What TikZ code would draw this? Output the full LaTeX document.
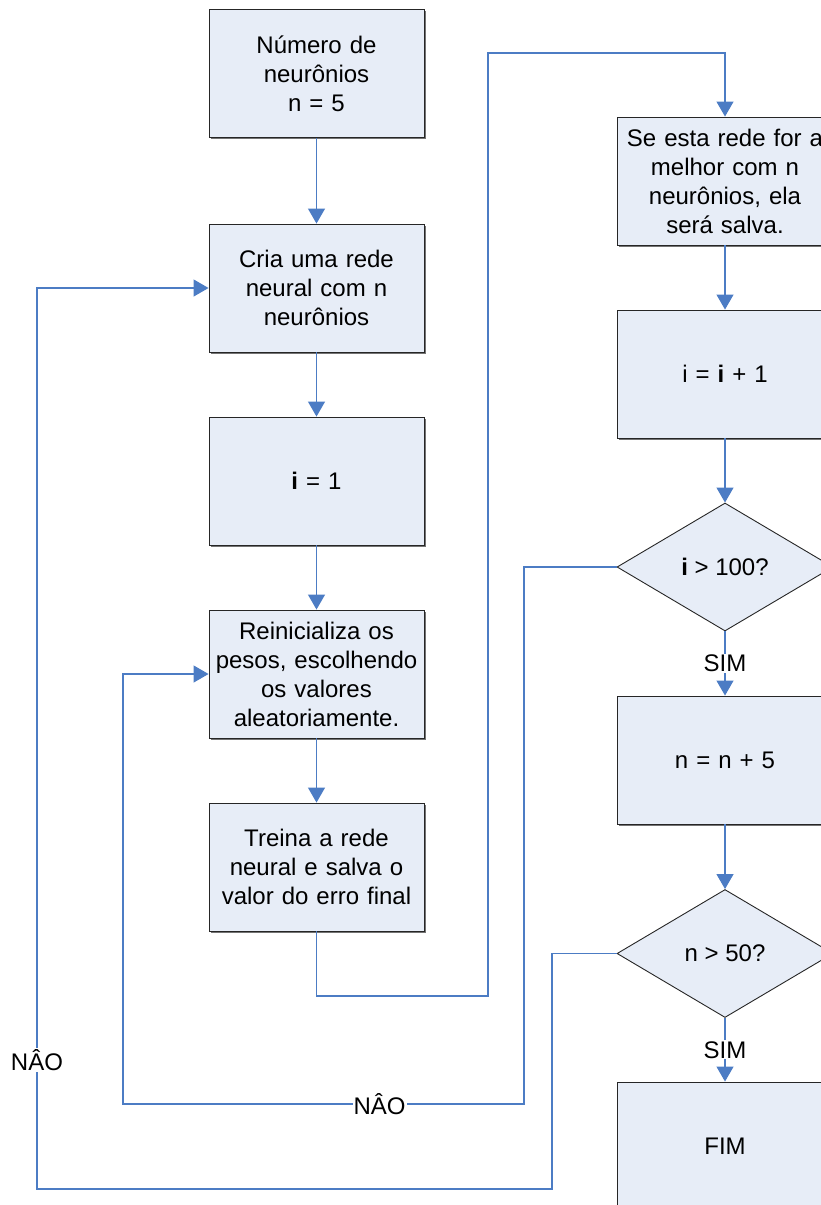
\documentclass[tikz,border=0pt]{standalone}
\usepackage{fontspec}
\setmainfont{Liberation Sans}
\usetikzlibrary{arrows.meta,shapes.geometric,shadows}
\definecolor{boxfill}{RGB}{231,237,247}
\definecolor{flowblue}{RGB}{76,124,196}
\begin{document}
\begin{tikzpicture}[x=1pt,y=-1pt,
  stepbox/.style={draw=black!85, line width=0.9pt, fill=boxfill,
    minimum width=215, minimum height=128, text width=205, align=center,
    inner sep=0pt, font=\fontsize{24}{29}\selectfont,
    drop shadow={shadow xshift=1.6pt, shadow yshift=-1.6pt, fill=black!55, opacity=1}},
  decision/.style={draw=black!85, line width=0.9pt, fill=boxfill, diamond,
    shape aspect=1.69, minimum width=216, minimum height=128, inner sep=0pt,
    font=\fontsize{24}{29}\selectfont},
  flow/.style={draw=flowblue, line width=1.2pt},
  arr/.style={flow, -{Triangle[width=17pt,length=15pt]}},
  lbl/.style={fill=white, inner sep=1pt, font=\fontsize{24}{29}\selectfont}]
\useasboundingbox (0,0) rectangle (821,1205);
\clip (0,0) rectangle (821,1205);

% left column
\node[stepbox] (b1) at (316.5,73.5) {Número de\\neurônios\\n = 5};
\node[stepbox] (b2) at (316.5,288) {Cria uma rede\\neural com n\\neurônios};
\node[stepbox] (b3) at (316.5,481) {\textbf{i} = 1};
\node[stepbox] (b4) at (316.5,674) {Reinicializa os\\pesos, escolhendo\\os valores\\aleatoriamente.};
\node[stepbox] (b5) at (316.5,867) {Treina a rede\\neural e salva o\\valor do erro final};

% right column
\node[stepbox] (b6) at (725,181) {Se esta rede for a\\melhor com n\\neurônios, ela\\será salva.};
\node[stepbox] (b7) at (725,374) {i = \textbf{i} + 1};
\node[decision] (d1) at (725,567) {\textbf{i} > 100?};
\node[stepbox] (b9) at (725,760) {n = n + 5};
\node[decision] (d2) at (725,953.5) {n > 50?};
\node[stepbox] (fim) at (725,1146) {FIM};

% main sequence
\draw[arr] (b1) -- (b2);
\draw[arr] (b2) -- (b3);
\draw[arr] (b3) -- (b4);
\draw[arr] (b4) -- (b5);
\coordinate (t1) at (488,996);
\coordinate (t2) at (488,53);
\draw[arr] (b5.south) |- (t1) -- (t2) -| (b6.north);
\draw[arr] (b6) -- (b7);
\draw[arr] (b7) -- (d1.north);
\draw[arr] (d1.south) -- node[lbl] {SIM} (b9.north);
\draw[arr] (b9) -- (d2.north);
\draw[arr] (d2.south) -- node[lbl] {SIM} (fim.north);

% loop back when i <= 100
\coordinate (n1a) at (524,1104);
\coordinate (n1b) at (123,1104);
\draw[arr] (d1.west) -| (n1a) -- node[lbl, pos=0.36] {NÂO} (n1b) |- (b4.west);

% loop back when n <= 50
\coordinate (n2a) at (552,1189);
\coordinate (n2b) at (37,1189);
\draw[arr] (d2.west) -| (n2a) -- (n2b) |- (b2.west);
\node[lbl] (no2) at (37,1060) {NÂO};
\end{tikzpicture}
\end{document}
